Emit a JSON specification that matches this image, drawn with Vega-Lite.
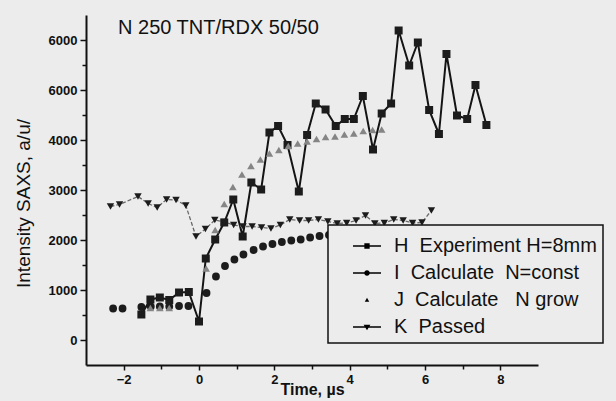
{
  "$schema": "https://vega.github.io/schema/vega-lite/v6.json",
  "width": 452,
  "height": 350,
  "autosize": "none",
  "padding": {"left": 86, "top": 15, "right": 78, "bottom": 36},
  "background": "#ececec",
  "data": {"values": [
    {"s": "H", "t": -1.53, "v": 510}, {"s": "H", "t": -1.29, "v": 810}, {"s": "H", "t": -1.04, "v": 850}, {"s": "H", "t": -0.79, "v": 800},
    {"s": "H", "t": -0.53, "v": 950}, {"s": "H", "t": -0.27, "v": 960}, {"s": "H", "t": 0.0, "v": 370}, {"s": "H", "t": 0.18, "v": 1630},
    {"s": "H", "t": 0.43, "v": 2010}, {"s": "H", "t": 0.67, "v": 2350}, {"s": "H", "t": 0.91, "v": 2810}, {"s": "H", "t": 1.16, "v": 2070},
    {"s": "H", "t": 1.39, "v": 3150}, {"s": "H", "t": 1.65, "v": 3010}, {"s": "H", "t": 1.87, "v": 4150}, {"s": "H", "t": 2.1, "v": 4280},
    {"s": "H", "t": 2.35, "v": 3900}, {"s": "H", "t": 2.65, "v": 2970}, {"s": "H", "t": 2.87, "v": 4100}, {"s": "H", "t": 3.1, "v": 4730},
    {"s": "H", "t": 3.36, "v": 4610}, {"s": "H", "t": 3.63, "v": 4280}, {"s": "H", "t": 3.87, "v": 4420}, {"s": "H", "t": 4.11, "v": 4420},
    {"s": "H", "t": 4.35, "v": 4880}, {"s": "H", "t": 4.62, "v": 3810}, {"s": "H", "t": 4.85, "v": 4530}, {"s": "H", "t": 5.1, "v": 4730},
    {"s": "H", "t": 5.3, "v": 6190}, {"s": "H", "t": 5.58, "v": 5490}, {"s": "H", "t": 5.81, "v": 5950}, {"s": "H", "t": 6.11, "v": 4600},
    {"s": "H", "t": 6.37, "v": 4120}, {"s": "H", "t": 6.57, "v": 5720}, {"s": "H", "t": 6.85, "v": 4490}, {"s": "H", "t": 7.12, "v": 4420},
    {"s": "H", "t": 7.34, "v": 5100}, {"s": "H", "t": 7.63, "v": 4300},
    {"s": "I", "t": -2.28, "v": 630}, {"s": "I", "t": -2.03, "v": 630}, {"s": "I", "t": -1.53, "v": 660}, {"s": "I", "t": -1.28, "v": 670},
    {"s": "I", "t": -1.04, "v": 670}, {"s": "I", "t": -0.79, "v": 670}, {"s": "I", "t": -0.53, "v": 680}, {"s": "I", "t": -0.28, "v": 680},
    {"s": "I", "t": 0.2, "v": 940}, {"s": "I", "t": 0.45, "v": 1270}, {"s": "I", "t": 0.69, "v": 1480}, {"s": "I", "t": 0.94, "v": 1610},
    {"s": "I", "t": 1.18, "v": 1710}, {"s": "I", "t": 1.45, "v": 1800}, {"s": "I", "t": 1.7, "v": 1870}, {"s": "I", "t": 1.95, "v": 1920},
    {"s": "I", "t": 2.2, "v": 1960}, {"s": "I", "t": 2.45, "v": 1990}, {"s": "I", "t": 2.7, "v": 2010}, {"s": "I", "t": 2.95, "v": 2050},
    {"s": "I", "t": 3.2, "v": 2080}, {"s": "I", "t": 3.45, "v": 2100},
    {"s": "J", "t": -1.29, "v": 640}, {"s": "J", "t": -1.04, "v": 640}, {"s": "J", "t": -0.79, "v": 640},
    {"s": "J", "t": 0.19, "v": 1430}, {"s": "J", "t": 0.43, "v": 2200}, {"s": "J", "t": 0.67, "v": 2720}, {"s": "J", "t": 0.9, "v": 3060},
    {"s": "J", "t": 1.14, "v": 3310}, {"s": "J", "t": 1.38, "v": 3480}, {"s": "J", "t": 1.63, "v": 3610}, {"s": "J", "t": 1.87, "v": 3730},
    {"s": "J", "t": 2.12, "v": 3800}, {"s": "J", "t": 2.37, "v": 3880}, {"s": "J", "t": 2.62, "v": 3930}, {"s": "J", "t": 2.87, "v": 3970},
    {"s": "J", "t": 3.12, "v": 4020}, {"s": "J", "t": 3.36, "v": 4060}, {"s": "J", "t": 3.61, "v": 4070}, {"s": "J", "t": 3.86, "v": 4110},
    {"s": "J", "t": 4.11, "v": 4130}, {"s": "J", "t": 4.36, "v": 4180}, {"s": "J", "t": 4.61, "v": 4200}, {"s": "J", "t": 4.85, "v": 4210},
    {"s": "K", "t": -2.35, "v": 2670}, {"s": "K", "t": -2.11, "v": 2710}, {"s": "K", "t": -1.62, "v": 2870}, {"s": "K", "t": -1.35, "v": 2730},
    {"s": "K", "t": -1.11, "v": 2650}, {"s": "K", "t": -0.86, "v": 2810}, {"s": "K", "t": -0.61, "v": 2800}, {"s": "K", "t": -0.35, "v": 2690},
    {"s": "K", "t": -0.08, "v": 2070}, {"s": "K", "t": 0.17, "v": 2220}, {"s": "K", "t": 0.42, "v": 2400}, {"s": "K", "t": 0.67, "v": 2360},
    {"s": "K", "t": 0.92, "v": 2300}, {"s": "K", "t": 1.17, "v": 2270}, {"s": "K", "t": 1.41, "v": 2270}, {"s": "K", "t": 1.66, "v": 2250},
    {"s": "K", "t": 1.91, "v": 2230}, {"s": "K", "t": 2.16, "v": 2300}, {"s": "K", "t": 2.41, "v": 2410}, {"s": "K", "t": 2.67, "v": 2390},
    {"s": "K", "t": 2.91, "v": 2390}, {"s": "K", "t": 3.17, "v": 2410}, {"s": "K", "t": 3.42, "v": 2370}, {"s": "K", "t": 3.67, "v": 2330},
    {"s": "K", "t": 3.92, "v": 2340}, {"s": "K", "t": 4.17, "v": 2390}, {"s": "K", "t": 4.42, "v": 2490}, {"s": "K", "t": 4.67, "v": 2330},
    {"s": "K", "t": 4.92, "v": 2340}, {"s": "K", "t": 5.17, "v": 2410}, {"s": "K", "t": 5.42, "v": 2390}, {"s": "K", "t": 5.67, "v": 2340},
    {"s": "K", "t": 5.92, "v": 2350}, {"s": "K", "t": 6.17, "v": 2590}
  ]},
  "layer": [
    {
      "transform": [{"filter": "datum.s == 'H'"}],
      "mark": {"type": "line", "color": "#141414", "strokeWidth": 2},
      "encoding": {
        "x": {"field": "t", "type": "quantitative", "scale": {"domain": [-3, 9], "nice": false, "zero": false},
          "axis": {"orient": "bottom", "values": [-2, 0, 2, 4, 6, 8], "title": "Time, µs", "titleFont": "Liberation Sans", "titleFontSize": 16, "titleFontWeight": "bold", "titleColor": "#111", "titlePadding": -5,
            "labelFont": "Liberation Sans", "labelFontSize": 13, "labelFontWeight": "bold", "labelColor": "#111", "labelPadding": 3, "labelFlush": false,
            "tickSize": 5, "tickWidth": 1.5, "tickColor": "#111", "domainColor": "#111", "domainWidth": 2, "grid": false}},
        "y": {"field": "v", "type": "quantitative", "scale": {"domain": [-500, 6500], "nice": false, "zero": false},
          "axis": {"orient": "left", "values": [0, 1000, 2000, 3000, 4000, 5000, 6000], "labelExpr": "datum.value == 5000 ? '6000' : '' + datum.value",
            "title": "Intensity SAXS, a/u/", "titleFont": "Liberation Sans", "titleFontSize": 19, "titleFontWeight": "normal", "titleColor": "#111", "titlePadding": 15, "titleY": 188,
            "labelFont": "Liberation Sans", "labelFontSize": 13, "labelFontWeight": "bold", "labelColor": "#111", "labelPadding": 3,
            "tickSize": 6, "tickWidth": 1.5, "tickColor": "#111", "domainColor": "#111", "domainWidth": 2, "grid": false}}
      }
    },
    {
      "transform": [{"filter": "datum.s == 'K'"}],
      "mark": {"type": "line", "color": "#6a6a6a", "strokeWidth": 1.3, "strokeDash": [4, 2]},
      "encoding": {
        "x": {"field": "t", "type": "quantitative", "scale": {"domain": [-3, 9], "nice": false, "zero": false},
          "axis": {"orient": "bottom", "values": [-1, 1, 3, 5, 7], "labels": false, "domain": false, "title": null, "tickSize": 4, "tickWidth": 1.5, "tickColor": "#111", "grid": false}},
        "y": {"field": "v", "type": "quantitative", "scale": {"domain": [-500, 6500], "nice": false, "zero": false},
          "axis": {"orient": "left", "values": [500, 1500, 2500, 3500, 4500, 5500], "labels": false, "domain": false, "title": null, "tickSize": 4, "tickWidth": 1.5, "tickColor": "#111", "grid": false}}
      }
    },
    {
      "mark": {"type": "point", "filled": true, "opacity": 1},
      "encoding": {
        "x": {"field": "t", "type": "quantitative", "scale": {"domain": [-3, 9], "nice": false, "zero": false}, "axis": null},
        "y": {"field": "v", "type": "quantitative", "scale": {"domain": [-500, 6500], "nice": false, "zero": false}, "axis": null},
        "size": {"field": "s", "type": "ordinal", "scale": {"domain": ["H", "I", "J", "K"], "range": [64, 55, 28, 75]}, "legend": null},
        "shape": {"field": "s", "type": "nominal", "scale": {"domain": ["H", "I", "J", "K"], "range": ["square", "circle", "triangle-up", "triangle-down"]}, "legend": null},
        "color": {"condition": {"test": "datum.s == 'J'", "value": "#858585"}, "value": "#1c1c1c"}
      }
    },
    {
      "mark": {"type": "point", "filled": true, "opacity": 0},
      "encoding": {
        "x": {"field": "t", "type": "quantitative", "scale": {"domain": [-3, 9], "nice": false, "zero": false}, "axis": null},
        "y": {"field": "v", "type": "quantitative", "scale": {"domain": [-500, 6500], "nice": false, "zero": false}, "axis": null},
        "shape": {"field": "s", "type": "nominal",
          "scale": {"domain": ["H", "I", "J", "K"], "range": [
            "M-1,-0.045H-0.19V-0.19H0.19V-0.045H1V0.045H0.19V0.19H-0.19V0.045H-1Z",
            "M-1,-0.045H1V0.045H-1ZM-0.2,0A0.2,0.2,0,1,1,0.2,0A0.2,0.2,0,1,1,-0.2,0Z",
            "M0,-0.16L0.16,0.12L-0.16,0.12Z",
            "M-1,-0.045H1V0.045H-1ZM-0.24,-0.16H0.24L0,0.24Z"]},
          "legend": {"orient": "none", "legendX": 242, "legendY": 210, "title": null, "padding": 6, "strokeColor": "#111", "fillColor": "#ececec",
            "symbolSize": 784, "symbolOffset": 18, "labelOffset": 12, "labelLimit": 300, "labelFont": "Liberation Sans", "labelFontSize": 20, "labelColor": "#111", "rowPadding": 2, "symbolOpacity": 1,
            "labelExpr": "datum.value == 'H' ? 'H\u00a0 Experiment H=8mm' : datum.value == 'I' ? 'I\u00a0 Calculate\u00a0 N=const' : datum.value == 'J' ? 'J\u00a0 Calculate\u00a0\u00a0 N grow' : 'K\u00a0 Passed'"}},
        "color": {"field": "s", "type": "nominal", "scale": {"domain": ["H", "I", "J", "K"], "range": ["#141414", "#1c1c1c", "#858585", "#1c1c1c"]},
          "legend": {"orient": "none", "legendX": 242, "legendY": 210, "title": null, "padding": 6, "strokeColor": "#111", "fillColor": "#ececec",
            "symbolSize": 784, "symbolOffset": 18, "labelOffset": 12, "labelLimit": 300, "labelFont": "Liberation Sans", "labelFontSize": 20, "labelColor": "#111", "rowPadding": 2, "symbolOpacity": 1,
            "labelExpr": "datum.value == 'H' ? 'H\u00a0 Experiment H=8mm' : datum.value == 'I' ? 'I\u00a0 Calculate\u00a0 N=const' : datum.value == 'J' ? 'J\u00a0 Calculate\u00a0\u00a0 N grow' : 'K\u00a0 Passed'"}}
      }
    },
    {
      "data": {"values": [{"label": "N 250 TNT/RDX 50/50", "t": -2.15, "v": 6120}]},
      "mark": {"type": "text", "align": "left", "baseline": "alphabetic", "font": "Liberation Sans", "fontSize": 20, "color": "#111"},
      "encoding": {
        "x": {"field": "t", "type": "quantitative", "scale": {"domain": [-3, 9], "nice": false, "zero": false}, "axis": null},
        "y": {"field": "v", "type": "quantitative", "scale": {"domain": [-500, 6500], "nice": false, "zero": false}, "axis": null},
        "text": {"field": "label"}
      }
    }
  ],
  "resolve": {"axis": {"x": "independent", "y": "independent"}, "scale": {"shape": "independent"}},
  "config": {
    "view": {"stroke": null},
    "font": "Liberation Sans",
    "legend": {"strokeWidth": 1.5}
  }
}
